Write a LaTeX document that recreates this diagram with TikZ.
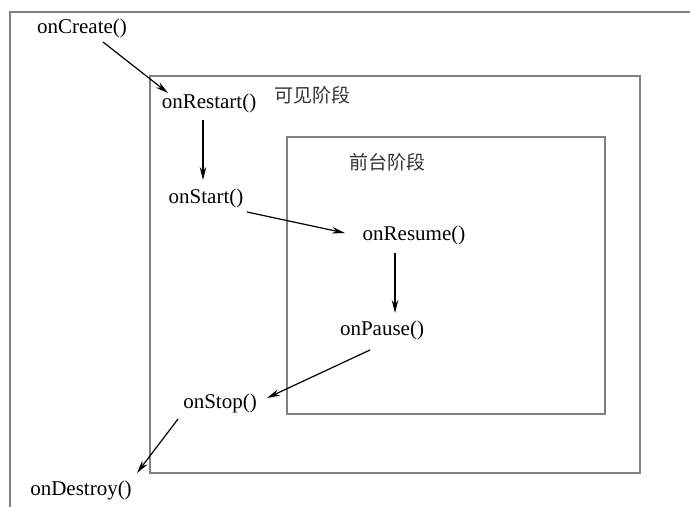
\documentclass[tikz,border=0pt]{standalone}
\usepackage{fontspec}
\setmainfont{Liberation Serif}
\newfontfamily\cjk{Noto Sans CJK SC}
\usetikzlibrary{arrows.meta}
\begin{document}
\begin{tikzpicture}[x=1pt,y=-1pt,
  box/.style={draw=black!50,line width=1.8pt},
  fn/.style={inner sep=0pt,font=\fontsize{21}{24}\selectfont},
  zh/.style={inner sep=0pt,font=\cjk\fontsize{19}{22}\selectfont,text=black!80},
  arr/.style={draw=black,line width=1.2pt,-{Stealth[length=13pt,width=6.5pt]}}]
\useasboundingbox (0,0) rectangle (690,506);
\fill[white] (0,0) rectangle (690,506);
% outer box (only top and left visible)
\draw[box] (691,12) -- (10,12) -- (10,507);
% visible stage box
\draw[box] (150,76) rectangle (640,473);
% foreground stage box
\draw[box] (287,137) rectangle (605,414);
% labels
\node[zh] (vis) at (312,95) {可见阶段};
\node[zh] (fg) at (387,162) {前台阶段};
% methods
\node[fn] (create) at (82,28) {onCreate()};
\node[fn] (restart) at (209,103) {onRestart()};
\node[fn] (start) at (206,198) {onStart()};
\node[fn] (resume) at (414,235) {onResume()};
\node[fn] (pause) at (382,330) {onPause()};
\node[fn] (stop) at (220,403) {onStop()};
\node[fn] (destroy) at (81,490) {onDestroy()};
% connectors
\draw[arr] ([shift={(21,14)}]create.center) -- ([shift={(-41,-10)}]restart.center);
\draw[arr] ([shift={(-6,17)}]restart.center) -- ([shift={(-3,-18)}]start.center);
\draw[arr] ([shift={(41,14)}]start.center) -- ([shift={(-69,-2)}]resume.center);
\draw[arr] ([shift={(-19,18)}]resume.center) -- ([shift={(13,-17)}]pause.center);
\draw[arr] ([shift={(-12,20)}]pause.center) -- ([shift={(47,-5)}]stop.center);
\draw[arr] ([shift={(-42,16)}]stop.center) -- ([shift={(56,-17)}]destroy.center);
\end{tikzpicture}
\end{document}
